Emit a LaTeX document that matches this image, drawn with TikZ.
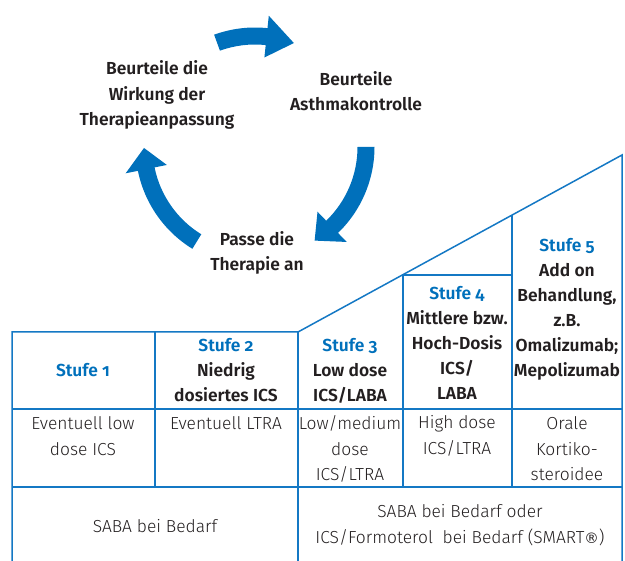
\documentclass[tikz,border=0pt]{standalone}
\usepackage{fontspec}
\setmainfont{Fira Sans}[UprightFont={Fira Sans Light}, BoldFont={Fira Sans SemiBold}, Numbers=OldStyle]
\usepackage{tikz}
\usetikzlibrary{positioning,calc}
\definecolor{stepblue}{RGB}{0,112,187}
\definecolor{linecol}{RGB}{20,120,196}
\definecolor{txt}{RGB}{35,31,32}
\newcommand{\stufe}[1]{\textcolor{stepblue}{\textbf{Stufe #1}}}
\newcommand{\regd}{{\fontspec{DejaVu Sans}\fontsize{14.5}{14.5}\selectfont ®}}
% curved block arrow: start angle, head base angle, tip angle
\newcommand{\cyclearrow}[3]{%
  \fill[stepblue] (#1:102.5) arc[start angle=#1, end angle=#2, radius=102.5]
    -- (#2:90) -- (#3:111) -- (#2:132) -- (#2:119.5)
    arc[start angle=#2, end angle=#1, radius=119.5] -- cycle;}

\begin{document}
\begin{tikzpicture}[x=1pt, y=-1pt,
  lbl/.style={align=center, text=txt, inner sep=0pt,
              font=\fontsize{17.4}{25.5}\selectfont\bfseries},
  cell/.style={align=center, text=txt, inner sep=0pt,
               font=\fontsize{17.4}{25.5}\selectfont},
  head/.style={cell, font=\fontsize{17.4}{25}\selectfont\bfseries},
  tab/.style={draw=linecol, line width=1.5pt},
]
  \useasboundingbox (0,0) rectangle (625,561);

  % cycle
  \begin{scope}[shift={(255,147)}]
    \cyclearrow{-110}{-84}{-69.5}
    \cyclearrow{0}{46}{57.5}
    \cyclearrow{121.6}{168.5}{179.5}
  \end{scope}
  \node[lbl] (wirkung) at (157,95) {Beurteile die\\Wirkung der\\Therapieanpassung};
  \node[lbl] (kontrolle) at (356,91) {Beurteile\\Asthmakontrolle};
  \node[lbl] (anpassen) at (257,253) {Passe die\\Therapie an};

  % staircase table
  \draw[tab] (12,561) -- (12,332) -- (298,332) -- (622,155) -- (622,561);
  \draw[tab] (403,275) -- (512,275);
  \draw[tab] (155,332) -- (155,487);
  \draw[tab] (298,332) -- (298,561);
  \draw[tab] (403,275) -- (403,487);
  \draw[tab] (512,215) -- (512,487);
  \draw[tab] (12,409) -- (622,409);
  \draw[tab] (12,487) -- (622,487);

  \node[head] (s1) at (83,370) {\stufe{1}};
  \node[head] (s2) at (226,370) {\stufe{2}\\Niedrig\\dosiertes ICS};
  \node[head] (s3) at (350,371) {\stufe{3}\\Low dose\\ICS/LABA};
  \node[head] (s4) at (457,343) {\stufe{4}\\Mittlere bzw.\\Hoch-Dosis\\ICS/\\LABA};
  \node[head] (s5) at (567,309) {\stufe{5}\\Add on\\Behandlung,\\z.B.\\Omalizumab;\\Mepolizumab};

  \node[cell] (m1) at (83,436) {Eventuell low\\dose ICS};
  \node[cell] (m2) at (226,423) {Eventuell LTRA};
  \node[cell] (m3) at (350,449) {Low/medium\\dose\\ICS/LTRA};
  \node[cell] (m4) at (457,436) {High dose\\ICS/LTRA};
  \node[cell] (m5) at (567,449) {Orale\\Kortiko-\\steroidee};

  \node[cell] (b1) at (155,526) {SABA bei Bedarf};
  \node[cell] (b2) at (460,525) {SABA bei Bedarf oder\\ICS/Formoterol\ \ bei Bedarf (SMART\regd)};
\end{tikzpicture}
\end{document}
